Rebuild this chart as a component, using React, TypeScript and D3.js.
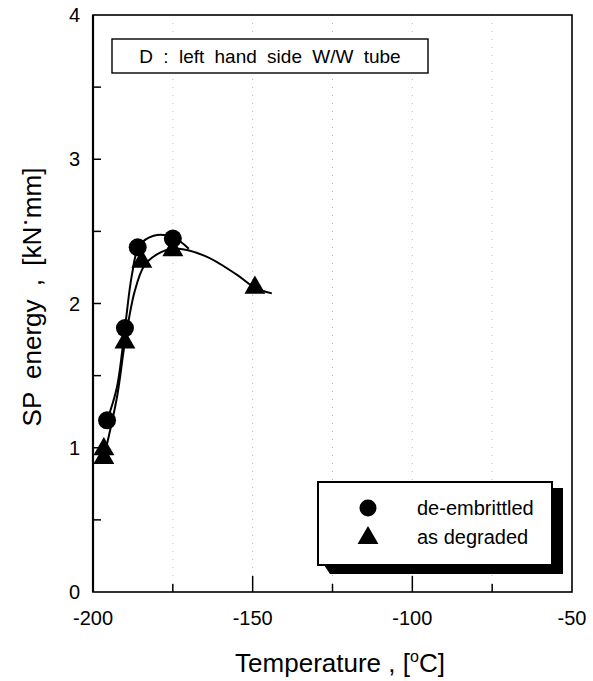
import React, { useEffect, useRef } from 'react';
import * as d3 from 'd3';

const circleTemps = [-195.6, -190, -186, -175];
const circleEnergy = [1.19, 1.83, 2.39, 2.45];
const triTemps = [-196.6, -196.6, -190, -184.7, -175, -149.3];
const triEnergy = [0.99, 0.93, 1.73, 2.29, 2.37, 2.11];

// hand fitted curves as drawn in the figure
const circleFitTemps = [-195.6, -192.5, -190, -187.8, -185.5, -181, -175, -170];
const circleFitEnergy = [1.19, 1.42, 1.83, 2.2, 2.4, 2.47, 2.46, 2.38];
const triFitTemps = [-196.4, -192.5, -190, -187, -184, -180, -175, -165, -155, -149.3, -144];
const triFitEnergy = [0.95, 1.35, 1.73, 2.08, 2.26, 2.34, 2.38, 2.33, 2.2, 2.11, 2.07];

const xTicks = [-200, -150, -100, -50];
const xMinor = [-175, -125, -75];
const yTicks = [0, 1, 2, 3, 4];
const yMinor = [0.5, 1, 1.5, 2, 2.5, 3, 3.5];

const legendLabels = ['de-embrittled', 'as degraded'];
const boxTitle = 'D : left hand side W/W tube';

const W = 593;
const H = 681;
const FONT = 'Liberation Sans, Arial, Helvetica, sans-serif';

export default function App() {
  const ref = useRef<SVGSVGElement>(null);

  useEffect(() => {
    const svg = d3.select(ref.current);
    svg.selectAll('*').remove();

    const x = d3.scaleLinear().domain([-200, -50]).range([93, 572]);
    const y = d3.scaleLinear().domain([0, 4]).range([592, 15]);

    // faint dotted grid
    svg.append('g').selectAll('line')
      .data([-175, -150, -125, -100, -75])
      .enter().append('line')
        .attr('x1', (d) => x(d)).attr('x2', (d) => x(d))
        .attr('y1', y(4)).attr('y2', y(0))
        .style('stroke', '#bbb')
        .style('stroke-width', 1)
        .style('stroke-dasharray', '1 7');

    // frame
    svg.append('rect')
      .attr('x', x(-200)).attr('y', y(4))
      .attr('width', x(-50) - x(-200)).attr('height', y(0) - y(4))
      .style('fill', 'none').style('stroke', '#000').style('stroke-width', 1.6);
    svg.append('line')
      .attr('x1', x(-200)).attr('x2', x(-200)).attr('y1', y(4)).attr('y2', y(0))
      .style('stroke', '#000').style('stroke-width', 2.2);

    // ticks
    svg.append('g').selectAll('line')
      .data(yMinor)
      .enter().append('line')
        .attr('x1', x(-200)).attr('x2', x(-200) + 8)
        .attr('y1', (d) => y(d)).attr('y2', (d) => y(d))
        .style('stroke', '#000').style('stroke-width', 1.5);
    svg.append('g').selectAll('line')
      .data(xMinor)
      .enter().append('line')
        .attr('x1', (d) => x(d)).attr('x2', (d) => x(d))
        .attr('y1', y(0)).attr('y2', y(0) - 8)
        .style('stroke', '#000').style('stroke-width', 1.5);
    svg.append('g').selectAll('line')
      .data([-150, -100])
      .enter().append('line')
        .attr('x1', (d) => x(d)).attr('x2', (d) => x(d))
        .attr('y1', y(0)).attr('y2', y(0) - 16)
        .style('stroke', '#000').style('stroke-width', 1.5);

    // tick labels
    svg.append('g').selectAll('text')
      .data(yTicks)
      .enter().append('text')
        .attr('x', 80).attr('y', (d) => y(d) + 7)
        .attr('text-anchor', 'end')
        .style('font-family', FONT).style('font-size', '20px')
        .text((d) => d);
    svg.append('g').selectAll('text')
      .data(xTicks)
      .enter().append('text')
        .attr('x', (d) => x(d)).attr('y', 625)
        .attr('text-anchor', 'middle')
        .style('font-family', FONT).style('font-size', '20px')
        .text((d) => d);

    // axis titles
    const xt = svg.append('text')
      .attr('x', 340).attr('y', 672)
      .attr('text-anchor', 'middle')
      .style('font-family', FONT).style('font-size', '26px');
    xt.append('tspan').text('Temperature , [');
    xt.append('tspan').attr('dy', -10).style('font-size', '16px').text('o');
    xt.append('tspan').attr('dy', 10).text('C]');

    const yt = svg.append('text')
      .attr('transform', 'translate(41, 297) rotate(-90)')
      .attr('text-anchor', 'middle')
      .style('font-family', FONT).style('font-size', '26px')
      .style('word-spacing', '6px');
    yt.append('tspan').text('SP energy , [kN');
    yt.append('tspan').attr('dy', -8).text('·');
    yt.append('tspan').attr('dy', 8).text('mm]');

    // title box
    svg.append('rect')
      .attr('x', 112).attr('y', 39).attr('width', 316).attr('height', 34)
      .style('fill', '#fff').style('stroke', '#000').style('stroke-width', 1.4);
    svg.append('text')
      .attr('x', 270).attr('y', 63)
      .attr('text-anchor', 'middle')
      .style('font-family', FONT).style('font-size', '19px')
      .style('word-spacing', '5px')
      .text(boxTitle);

    // fitted curves
    const line = d3.line<[number, number]>()
      .x((d) => x(d[0])).y((d) => y(d[1]))
      .curve(d3.curveCatmullRom.alpha(0.5));
    svg.append('path')
      .attr('d', line(circleFitTemps.map((t, i) => [t, circleFitEnergy[i]])))
      .style('fill', 'none').style('stroke', '#000').style('stroke-width', 2);
    svg.append('path')
      .attr('d', line(triFitTemps.map((t, i) => [t, triFitEnergy[i]])))
      .style('fill', 'none').style('stroke', '#000').style('stroke-width', 2);

    // markers
    const tri = d3.symbol().type(d3.symbolTriangle).size(190);
    svg.append('g').selectAll('path')
      .data(triTemps.map((t, i) => [t, triEnergy[i]]))
      .enter().append('path')
        .attr('d', tri)
        .attr('transform', (d) => `translate(${x(d[0])}, ${y(d[1])})`)
        .style('fill', '#000');
    svg.append('g').selectAll('circle')
      .data(circleTemps.map((t, i) => [t, circleEnergy[i]]))
      .enter().append('circle')
        .attr('cx', (d) => x(d[0])).attr('cy', (d) => y(d[1]))
        .attr('r', 9)
        .style('fill', '#000');

    // legend with drop shadow
    const lg = svg.append('g').attr('transform', 'translate(318, 482)');
    lg.append('path')
      .attr('d', 'M 6 83 L 12 92 L 245 92 L 245 6 L 234 6 L 234 83 Z')
      .style('fill', '#000');
    lg.append('rect')
      .attr('width', 234).attr('height', 83)
      .style('fill', '#fff').style('stroke', '#000').style('stroke-width', 2);
    lg.append('circle').attr('cx', 50).attr('cy', 26).attr('r', 8.5).style('fill', '#000');
    lg.append('path').attr('d', tri).attr('transform', 'translate(50, 56)').style('fill', '#000');
    lg.append('g').selectAll('text')
      .data(legendLabels)
      .enter().append('text')
        .attr('x', 99).attr('y', (d, i) => 33 + i * 29)
        .style('font-family', FONT).style('font-size', '20px')
        .text((d) => d);
  }, []);

  return (
    <svg ref={ref} width={W} height={H}
      style={{ position: 'absolute', left: 0, top: 0, background: '#fff' }} />
  );
}
